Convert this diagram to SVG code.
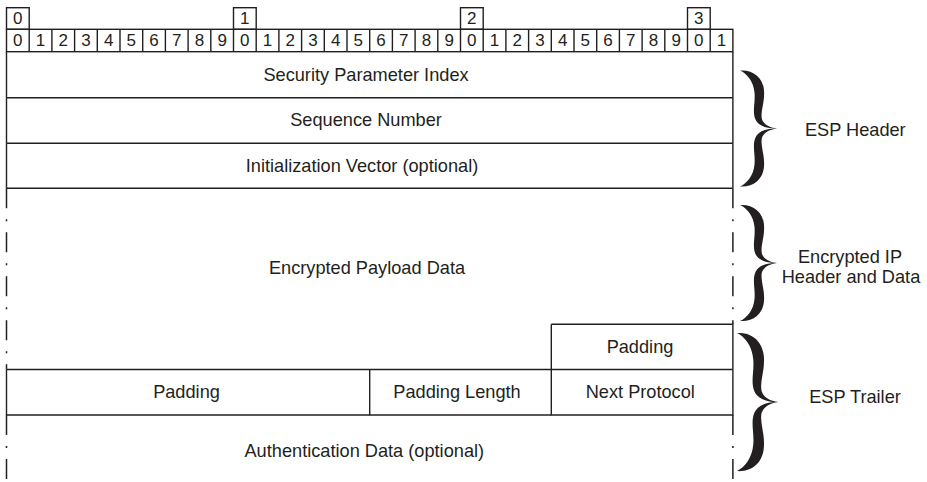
<svg xmlns="http://www.w3.org/2000/svg" xmlns:xlink="http://www.w3.org/1999/xlink" width="927" height="482" viewBox="0 0 927 482">
<style>
.ln{fill:none;stroke:#231f20;stroke-width:1.4}
.dash{fill:none;stroke:#231f20;stroke-width:1.5;stroke-dasharray:20 11 2 11}
.t{font-family:"Liberation Sans",Arial,sans-serif;font-size:18.2px;fill:#231f20;text-anchor:middle}
.d{font-family:"Liberation Sans",Arial,sans-serif;font-size:17px;fill:#231f20;text-anchor:middle}
.br{fill:#231f20;stroke:none}
</style>
<defs>
<path id="halfbrace" d="M0,0 C12,-1 23,6 24,20 C25,32 20,41 22,49 C24,54 29,57 37,58 C27,58.5 18,55 15.5,49 C12,41 15.5,32 14.5,22 C13.5,11 7,3 0,0 Z"/>
<g id="brace">
<use xlink:href="#halfbrace" href="#halfbrace"/>
<use xlink:href="#halfbrace" href="#halfbrace" transform="translate(0,116) scale(1,-1)"/>
</g>
</defs>
<rect width="927" height="482" fill="#ffffff"/>

<g id="ruler">
<rect class="ln" x="6.5" y="7.7" width="22.7" height="21.6"/>
<rect class="ln" x="233.5" y="7.7" width="22.7" height="21.6"/>
<rect class="ln" x="460.5" y="7.7" width="22.7" height="21.6"/>
<rect class="ln" x="687.5" y="7.7" width="22.7" height="21.6"/>
<rect class="ln" x="6.5" y="29.3" width="726.4" height="22.4"/>
<path class="ln" d="M29.2 29.3V51.7M51.9 29.3V51.7M74.6 29.3V51.7M97.3 29.3V51.7M120 29.3V51.7M142.7 29.3V51.7M165.4 29.3V51.7M188.1 29.3V51.7M210.8 29.3V51.7M233.5 29.3V51.7M256.2 29.3V51.7M278.9 29.3V51.7M301.6 29.3V51.7M324.3 29.3V51.7M347 29.3V51.7M369.7 29.3V51.7M392.4 29.3V51.7M415.1 29.3V51.7M437.8 29.3V51.7M460.5 29.3V51.7M483.2 29.3V51.7M505.9 29.3V51.7M528.6 29.3V51.7M551.3 29.3V51.7M574 29.3V51.7M596.7 29.3V51.7M619.4 29.3V51.7M642.1 29.3V51.7M664.8 29.3V51.7M687.5 29.3V51.7M710.2 29.3V51.7"/>
<text class="d" x="17.85" y="24">0</text>
<text class="d" x="244.85" y="24">1</text>
<text class="d" x="471.85" y="24">2</text>
<text class="d" x="698.85" y="24">3</text>
<text class="d" x="17.85" y="46.2">0</text>
<text class="d" x="40.55" y="46.2">1</text>
<text class="d" x="63.25" y="46.2">2</text>
<text class="d" x="85.95" y="46.2">3</text>
<text class="d" x="108.65" y="46.2">4</text>
<text class="d" x="131.35" y="46.2">5</text>
<text class="d" x="154.05" y="46.2">6</text>
<text class="d" x="176.75" y="46.2">7</text>
<text class="d" x="199.45" y="46.2">8</text>
<text class="d" x="222.15" y="46.2">9</text>
<text class="d" x="244.85" y="46.2">0</text>
<text class="d" x="267.55" y="46.2">1</text>
<text class="d" x="290.25" y="46.2">2</text>
<text class="d" x="312.95" y="46.2">3</text>
<text class="d" x="335.65" y="46.2">4</text>
<text class="d" x="358.35" y="46.2">5</text>
<text class="d" x="381.05" y="46.2">6</text>
<text class="d" x="403.75" y="46.2">7</text>
<text class="d" x="426.45" y="46.2">8</text>
<text class="d" x="449.15" y="46.2">9</text>
<text class="d" x="471.85" y="46.2">0</text>
<text class="d" x="494.55" y="46.2">1</text>
<text class="d" x="517.25" y="46.2">2</text>
<text class="d" x="539.95" y="46.2">3</text>
<text class="d" x="562.65" y="46.2">4</text>
<text class="d" x="585.35" y="46.2">5</text>
<text class="d" x="608.05" y="46.2">6</text>
<text class="d" x="630.75" y="46.2">7</text>
<text class="d" x="653.45" y="46.2">8</text>
<text class="d" x="676.15" y="46.2">9</text>
<text class="d" x="698.85" y="46.2">0</text>
<text class="d" x="721.55" y="46.2">1</text>
</g>

<g id="spi">
<path class="ln" d="M6.5 51.7V97.7M732.9 51.7V97.7M6.5 97.7H732.9"/>
<text class="t" x="366" y="80.7">Security Parameter Index</text>
</g>
<g id="seq">
<path class="ln" d="M6.5 97.7V143.3M732.9 97.7V143.3M6.5 143.3H732.9"/>
<text class="t" x="366" y="126">Sequence Number</text>
</g>
<g id="iv">
<path class="ln" d="M6.5 143.3V188.3M732.9 143.3V188.3M6.5 188.3H732.9"/>
<text class="t" x="362" y="171.7">Initialization Vector (optional)</text>
</g>
<g id="payload">
<path class="dash" d="M6.5 188.3V369.5"/>
<path class="dash" d="M732.9 188.3V324.3"/>
<text class="t" x="367" y="274">Encrypted Payload Data</text>
</g>
<g id="padding-top">
<path class="ln" d="M551.3 324.3H732.9V369.5M551.3 324.3V369.5"/>
<text class="t" x="640" y="353.3">Padding</text>
</g>
<g id="padding">
<path class="ln" d="M6.5 369.5H732.9M6.5 369.5V415M6.5 415H369.7"/>
<text class="t" x="186.5" y="398">Padding</text>
</g>
<g id="padding-length">
<path class="ln" d="M369.7 369.5V415H551.3"/>
<text class="t" x="457" y="398">Padding Length</text>
</g>
<g id="next-protocol">
<path class="ln" d="M551.3 369.5V415H732.9V369.5"/>
<text class="t" x="640.3" y="398">Next Protocol</text>
</g>
<g id="auth">
<path class="dash" d="M6.5 415V482"/>
<path class="dash" d="M732.9 415V482"/>
<text class="t" x="364.3" y="456.7">Authentication Data (optional)</text>
</g>

<g id="esp-header">
<use class="br" xlink:href="#brace" href="#brace" transform="translate(740,70.5)"/>
<text class="t" x="855.3" y="136">ESP Header</text>
</g>
<g id="encrypted-ip">
<use class="br" xlink:href="#brace" href="#brace" transform="translate(740,205)"/>
<text class="t" x="850" y="262.7">Encrypted IP</text>
<text class="t" x="851" y="283.3">Header and Data</text>
</g>
<g id="esp-trailer">
<use class="br" xlink:href="#brace" href="#brace" transform="translate(737,333) scale(1.12,1.19)"/>
<text class="t" x="855" y="402.7">ESP Trailer</text>
</g>
</svg>
